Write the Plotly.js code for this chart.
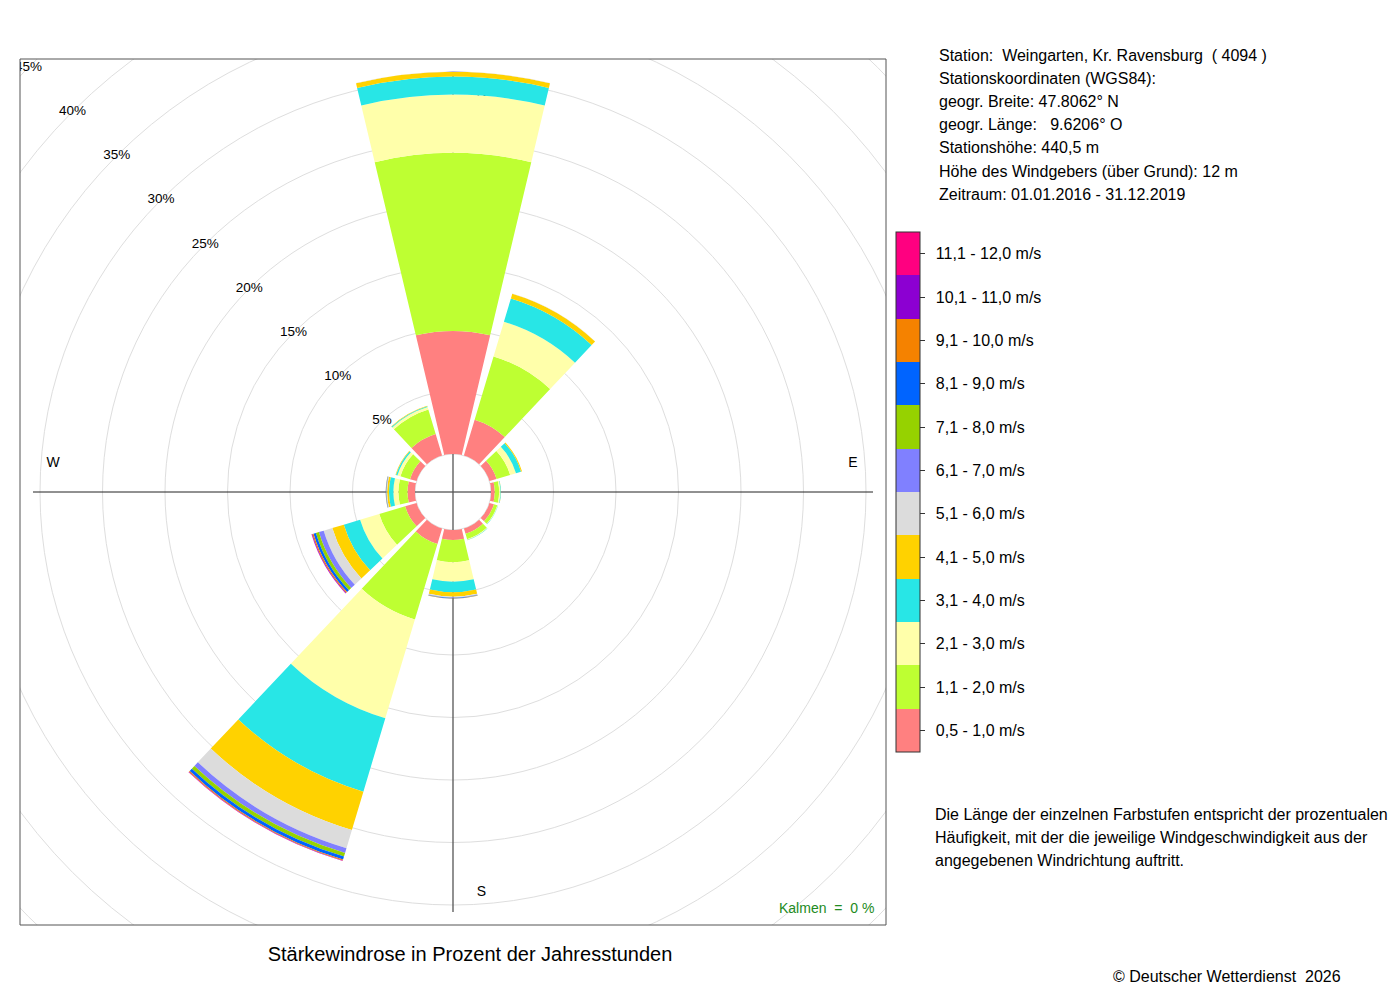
<!DOCTYPE html>
<html>
<head>
<meta charset="utf-8">
<script src="https://cdn.plot.ly/plotly-3.0.1.min.js"></script>
<style>html,body{margin:0;padding:0;background:#fff;}#chart{width:1400px;height:1000px;}</style>
</head>
<body>
<div id="chart"></div>
<script>
// ---------- DATA ----------
var directions = [0, 30, 60, 90, 120, 150, 180, 210, 240, 270, 300, 330];

var speedClasses = ["0,5 - 1,0 m/s", "1,1 - 2,0 m/s", "2,1 - 3,0 m/s", "3,1 - 4,0 m/s",
  "4,1 - 5,0 m/s", "5,1 - 6,0 m/s", "6,1 - 7,0 m/s", "7,1 - 8,0 m/s",
  "8,1 - 9,0 m/s", "9,1 - 10,0 m/s", "10,1 - 11,0 m/s", "11,1 - 12,0 m/s"];

var classColors = ["#FF8080", "#BEFF32", "#FFFFAA", "#28E6E6", "#FFD200", "#DCDCDC",
  "#8080FF", "#96D200", "#0064FF", "#F58200", "#8C00D2", "#FF0080"];

// percent of annual hours per direction (N, 30, 60, ... 330)
var s05_10  = [9.84, 3.00, 0.60, 0.30, 0.38, 0.45, 0.80, 1.30, 0.96, 0.60, 0.55, 1.80];
var s11_20  = [14.24, 5.28, 1.13, 0.35, 0.28, 0.45, 1.78, 6.30, 2.16, 0.73, 0.80, 2.05];
var s21_30  = [4.66, 2.90, 0.49, 0.10, 0.04, 0.04, 1.55, 8.26, 1.60, 0.40, 0.25, 0.20];
var s31_40  = [1.44, 1.94, 0.42, 0.04, 0.02, 0.03, 0.85, 6.12, 1.36, 0.35, 0.12, 0.08];
var s41_50  = [0.38, 0.40, 0.08, 0.01, 0.00, 0.01, 0.35, 3.21, 0.96, 0.15, 0.04, 0.03];
var s51_60  = [0.02, 0.01, 0.00, 0.00, 0.00, 0.00, 0.05, 1.51, 0.72, 0.04, 0.01, 0.01];
var s61_70  = [0.01, 0.00, 0.00, 0.00, 0.00, 0.00, 0.05, 0.40, 0.40, 0.03, 0.00, 0.00];
var s71_80  = [0.00, 0.00, 0.00, 0.00, 0.00, 0.00, 0.02, 0.30, 0.25, 0.02, 0.00, 0.00];
var s81_90  = [0.00, 0.00, 0.00, 0.00, 0.00, 0.00, 0.03, 0.25, 0.20, 0.02, 0.00, 0.00];
var s91_100 = [0.00, 0.00, 0.00, 0.00, 0.00, 0.00, 0.01, 0.08, 0.10, 0.01, 0.00, 0.00];
var s101_110= [0.00, 0.00, 0.00, 0.00, 0.00, 0.00, 0.00, 0.03, 0.05, 0.00, 0.00, 0.00];
var s111_120= [0.00, 0.00, 0.00, 0.00, 0.00, 0.00, 0.00, 0.02, 0.02, 0.00, 0.00, 0.00];

var ringValues = [0, 5, 10, 15, 20, 25, 30, 35, 40, 45];
var ringLabels = ["5%", "10%", "15%", "20%", "25%", "30%", "35%", "40%", "45%"];
var compassLabels = ["N", "E", "S", "W"];
var compassAngles = [0, 90, 180, 270];

var stationLines = [
  "Station:\u00a0\u00a0Weingarten, Kr. Ravensburg\u00a0\u00a0( 4094 )",
  "Stationskoordinaten (WGS84):",
  "geogr. Breite: 47.8062\u00b0 N",
  "geogr. L\u00e4nge:\u00a0\u00a0\u00a09.6206\u00b0 O",
  "Stationsh\u00f6he: 440,5 m",
  "H\u00f6he des Windgebers (\u00fcber Grund): 12 m",
  "Zeitraum: 01.01.2016 - 31.12.2019"
];
var noteLines = [
  "Die L\u00e4nge der einzelnen Farbstufen entspricht der prozentualen",
  "H\u00e4ufigkeit, mit der die jeweilige Windgeschwindigkeit aus der",
  "angegebenen Windrichtung auftritt."
];
var chartTitle = "St\u00e4rkewindrose in Prozent der Jahresstunden";
var calmText = "Kalmen\u00a0\u00a0=\u00a0\u00a00 %";
var copyrightText = "\u00a9 Deutscher Wetterdienst\u00a0\u00a02026";

// ---------- LAYOUT GEOMETRY ----------
var W = 1400, H = 1000;
var boxL = 20, boxR = 886, boxT = 59, boxB = 925;
var half = (boxR - boxL) / 2;          // 433 px
var holePx = 38;
var pxPerPct = 12.5;
var rMax = (half - holePx) / pxPerPct; // radial range shown by polar
var FONT = "Liberation Sans, Arial, Helvetica, sans-serif";

function rpx(p) { return holePx + pxPerPct * p; }

var seriesList = [s05_10, s11_20, s21_30, s31_40, s41_50, s51_60, s61_70, s71_80, s81_90, s91_100, s101_110, s111_120];

var traces = [];

// background cartesian: label text (clipped to box)
var rlX = [], rlY = [];
for (var i = 1; i < ringValues.length; i++) {
  var rr = rpx(ringValues[i]);
  rlX.push(-rr * Math.SQRT1_2);
  rlY.push(rr * Math.SQRT1_2);
}
traces.push({
  type: "scatter", mode: "text", x: rlX, y: rlY, text: ringLabels,
  textfont: {family: FONT, size: 13.5, color: "#000"}, textposition: "middle center",
  cliponaxis: true, hoverinfo: "skip", xaxis: "x", yaxis: "y", showlegend: false
});

var clR = 400, clOff = 28.5;
var cX = [], cY = [];
for (var k = 0; k < compassAngles.length; k++) {
  var a = compassAngles[k] * Math.PI / 180;
  var px = clR * Math.sin(a), py = clR * Math.cos(a);
  if (compassAngles[k] === 0 || compassAngles[k] === 180) { px += clOff; } else { py += clOff; }
  cX.push(px); cY.push(py);
}
traces.push({
  type: "scatter", mode: "text", x: cX, y: cY, text: compassLabels,
  textfont: {family: FONT, size: 14, color: "#000"}, textposition: "middle center",
  cliponaxis: true, hoverinfo: "skip", xaxis: "x", yaxis: "y", showlegend: false
});

// legend as colorbar
var cscale = [];
for (var c = 0; c < classColors.length; c++) {
  cscale.push([c / classColors.length, classColors[c]]);
  cscale.push([(c + 1) / classColors.length, classColors[c]]);
}
var tickv = speedClasses.map(function (s, idx) { return idx + 0.5; });
var tickt = speedClasses.map(function (s) { return "\u00a0\u2009" + s; });
traces.push({
  type: "scatter", mode: "markers", x: [0], y: [0], xaxis: "x", yaxis: "y",
  hoverinfo: "skip", showlegend: false,
  marker: {
    size: 1, opacity: 0, color: [0], cmin: 0, cmax: speedClasses.length,
    colorscale: cscale, showscale: true,
    colorbar: {
      x: 896 / W, xanchor: "left", y: 1 - 492 / H, yanchor: "middle",
      len: 520 / H, lenmode: "fraction", thickness: 24, thicknessmode: "pixels",
      xpad: 0, ypad: 0, outlinewidth: 1, outlinecolor: "#333", borderwidth: 0,
      tickmode: "array", tickvals: tickv, ticktext: tickt,
      ticks: "outside", ticklen: 5, tickcolor: "#333", tickwidth: 1,
      tickfont: {family: FONT, size: 16, color: "#000"}
    }
  }
});

// wind rose bars
for (var s = 0; s < seriesList.length; s++) {
  traces.push({
    type: "barpolar", r: seriesList[s], theta: directions, width: 26.7,
    name: speedClasses[s], subplot: "polar",
    marker: {color: classColors[s], line: {width: 0}},
    hovertemplate: speedClasses[s] + ": %{r}%<extra></extra>", showlegend: false
  });
}

// shapes: rings, cross, frame
var shapes = [];
for (var j = 0; j < ringValues.length; j++) {
  var R = rpx(ringValues[j]);
  shapes.push({type: "circle", xref: "x", yref: "y", x0: -R, x1: R, y0: -R, y1: R,
    line: {color: "#DEDEDE", width: 1}, layer: "below"});
}
var crossR = 420;
shapes.push({type: "line", xref: "x", yref: "y", x0: -crossR, x1: crossR, y0: 0, y1: 0,
  line: {color: "#222", width: 1}, layer: "below"});
shapes.push({type: "line", xref: "x", yref: "y", x0: 0, x1: 0, y0: -crossR, y1: crossR,
  line: {color: "#555", width: 1.3}, layer: "below"});
shapes.push({type: "rect", xref: "paper", yref: "paper",
  x0: boxL / W, x1: boxR / W, y0: 1 - boxB / H, y1: 1 - boxT / H,
  line: {color: "#555", width: 1}, layer: "above"});

// annotations: station info, note, calm, copyright
var ann = [];
stationLines.forEach(function (t, idx) {
  ann.push({xref: "paper", yref: "paper", x: 937 / W, y: 1 - (55 + 23.2 * idx) / H,
    xanchor: "left", yanchor: "middle", text: t, showarrow: false,
    font: {family: FONT, size: 16, color: "#000"}});
});
noteLines.forEach(function (t, idx) {
  ann.push({xref: "paper", yref: "paper", x: 933 / W, y: 1 - (814 + 23 * idx) / H,
    xanchor: "left", yanchor: "middle", text: t, showarrow: false,
    font: {family: FONT, size: 16, color: "#000"}});
});
ann.push({xref: "paper", yref: "paper", x: 876 / W, y: 1 - 908 / H,
  xanchor: "right", yanchor: "middle", text: calmText, showarrow: false,
  font: {family: FONT, size: 14, color: "#228B22"}});
ann.push({xref: "paper", yref: "paper", x: 1343 / W, y: 1 - 976 / H,
  xanchor: "right", yanchor: "middle", text: copyrightText, showarrow: false,
  font: {family: FONT, size: 16, color: "#000"}});

var layout = {
  width: W, height: H, margin: {l: 0, r: 0, t: 0, b: 0},
  paper_bgcolor: "#fff", plot_bgcolor: "rgba(0,0,0,0)", showlegend: false,
  title: {text: chartTitle, x: 470 / W, xanchor: "center", y: 1 - 954 / H, yanchor: "middle",
    yref: "container", xref: "container", font: {family: FONT, size: 20, color: "#000"}},
  xaxis: {domain: [boxL / W, boxR / W], range: [-half, half], visible: false, fixedrange: true},
  yaxis: {domain: [1 - boxB / H, 1 - boxT / H], range: [-half, half], visible: false, fixedrange: true},
  polar: {
    domain: {x: [boxL / W, boxR / W], y: [1 - boxB / H, 1 - boxT / H]},
    hole: holePx / half, bgcolor: "rgba(0,0,0,0)", barmode: "stack", bargap: 0,
    radialaxis: {range: [0, rMax], visible: false},
    angularaxis: {rotation: 90, direction: "clockwise", visible: false}
  },
  shapes: shapes,
  annotations: ann
};

Plotly.newPlot("chart", traces, layout, {displayModeBar: false, staticPlot: true});
</script>
</body>
</html>
